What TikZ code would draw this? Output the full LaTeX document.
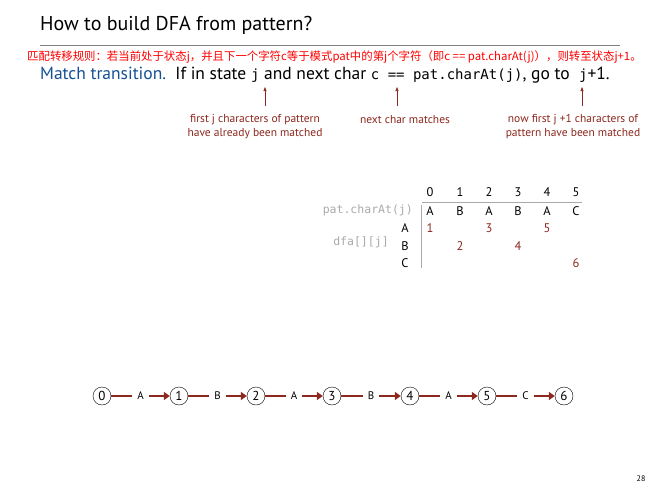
\documentclass[tikz,border=0pt]{standalone}
\usepackage{fontspec}
\setmainfont{PT Sans}
\setmonofont{DejaVu Sans Mono}
\newfontfamily\cjk{Noto Sans CJK SC}
\usetikzlibrary{arrows.meta}
\definecolor{dred}{RGB}{140,40,30}
\definecolor{tblue}{RGB}{20,80,150}
\definecolor{lgray}{RGB}{170,170,170}
\tikzset{
  lbl/.style={text=dred,font=\fontsize{11.5}{14}\selectfont,align=center},
  st/.style={circle,draw,minimum size=18pt,inner sep=0pt,font=\fontsize{13}{13}\selectfont},
  ed/.style={draw=dred,line width=2pt},
  ar/.style={draw=dred,line width=2pt,-{Triangle[length=6pt,width=8pt]}},
  up/.style={draw=dred,line width=0.6pt,-{Triangle[length=4pt,width=3pt]}},
  cell/.style={font=\fontsize{12.5}{12.5}\selectfont,inner sep=0pt},
  num/.style={cell,text=dred}
}
\begin{document}
\begin{tikzpicture}[x=1pt,y=-1pt]
\useasboundingbox[fill=white] (0,0) rectangle (657,490);
\node[anchor=west,font=\fontsize{20}{20}\selectfont,inner sep=0pt] (title) at (40,25) {How to build DFA from pattern?};
\draw[gray,line width=0.8pt] (40,45) -- (620,45);
\node[anchor=west,text=red,font=\cjk\fontsize{11.4}{12}\selectfont,inner sep=0pt] (cn) at (27,57) {匹配转移规则：若当前处于状态j，并且下一个字符c等于模式pat中的第j个字符（即c == pat.charAt(j)），则转至状态j+1。};
\node[anchor=west,font=\fontsize{17.5}{18}\selectfont,inner sep=0pt] (rule) at (40,75) {\textcolor{tblue}{Match transition.}\ \ If in state {\ttfamily\fontsize{14}{14}\selectfont j} and next char {\ttfamily\fontsize{14}{14}\selectfont c == pat.charAt(j)}, go to\ \ {\ttfamily\fontsize{14}{14}\selectfont j}+1.};
\coordinate (a1) at (265,87); \coordinate (b1) at (265,106);
\coordinate (a2) at (397,87); \coordinate (b2) at (397,106);
\coordinate (a3) at (582,87); \coordinate (b3) at (582,106);
\draw[up] (b1) -- (a1); \draw[up] (b2) -- (a2); \draw[up] (b3) -- (a3);
\node[lbl] (l1) at (255,127) {first j characters of pattern\\have already been matched};
\node[lbl] (l2) at (405,120) {next char matches};
\node[lbl] (l3) at (573,127) {now first j +1 characters of\\pattern have been matched};
% table
\foreach \i/\x/\p in {0/430/A,1/460/B,2/489/A,3/518/B,4/547/A,5/576/C}{
  \node[cell] (h\i) at (\x,192) {\i};
  \node[cell] (p\i) at (\x,211) {\p};
}
\draw[lgray,line width=0.6pt] (422,202) -- (582,202);
\draw[lgray,line width=0.6pt] (421,205) -- (421,268);
\node[anchor=east,text=lgray,font=\ttfamily\fontsize{11.5}{11.5}\selectfont,inner sep=0pt] (pc) at (413,210) {pat.charAt(j)};
\node[text=lgray,font=\ttfamily\fontsize{11.5}{11.5}\selectfont,inner sep=0pt] (dfa) at (361,242) {dfa[][j]};
\node[cell] (rA) at (405,228) {A};
\node[cell] (rB) at (405,246) {B};
\node[cell] (rC) at (405,263) {C};
\node[num] (n1) at (430,228) {1};
\node[num] (n3) at (489,228) {3};
\node[num] (n5) at (547,228) {5};
\node[num] (n2) at (460,246) {2};
\node[num] (n4) at (518,246) {4};
\node[num] (n6) at (576,263) {6};
% chain
\foreach \i/\x in {0/102,1/179,2/256,3/332,4/410,5/487,6/564}{
  \node[st] (s\i) at (\x,396) {\i};
}
\foreach \i/\j/\c in {0/1/A,1/2/B,2/3/A,3/4/B,4/5/A,5/6/C}{
  \path (s\i) -- node[cell,font=\fontsize{11}{11}\selectfont,fill=white,inner xsep=5pt] (c\i) {\c} (s\j);
  \draw[ed] (s\i) -- (c\i);
  \draw[ar] (c\i) -- (s\j);
}
\node[font=\fontsize{8}{8}\selectfont] (pg) at (641,479) {28};
\end{tikzpicture}
\end{document}
